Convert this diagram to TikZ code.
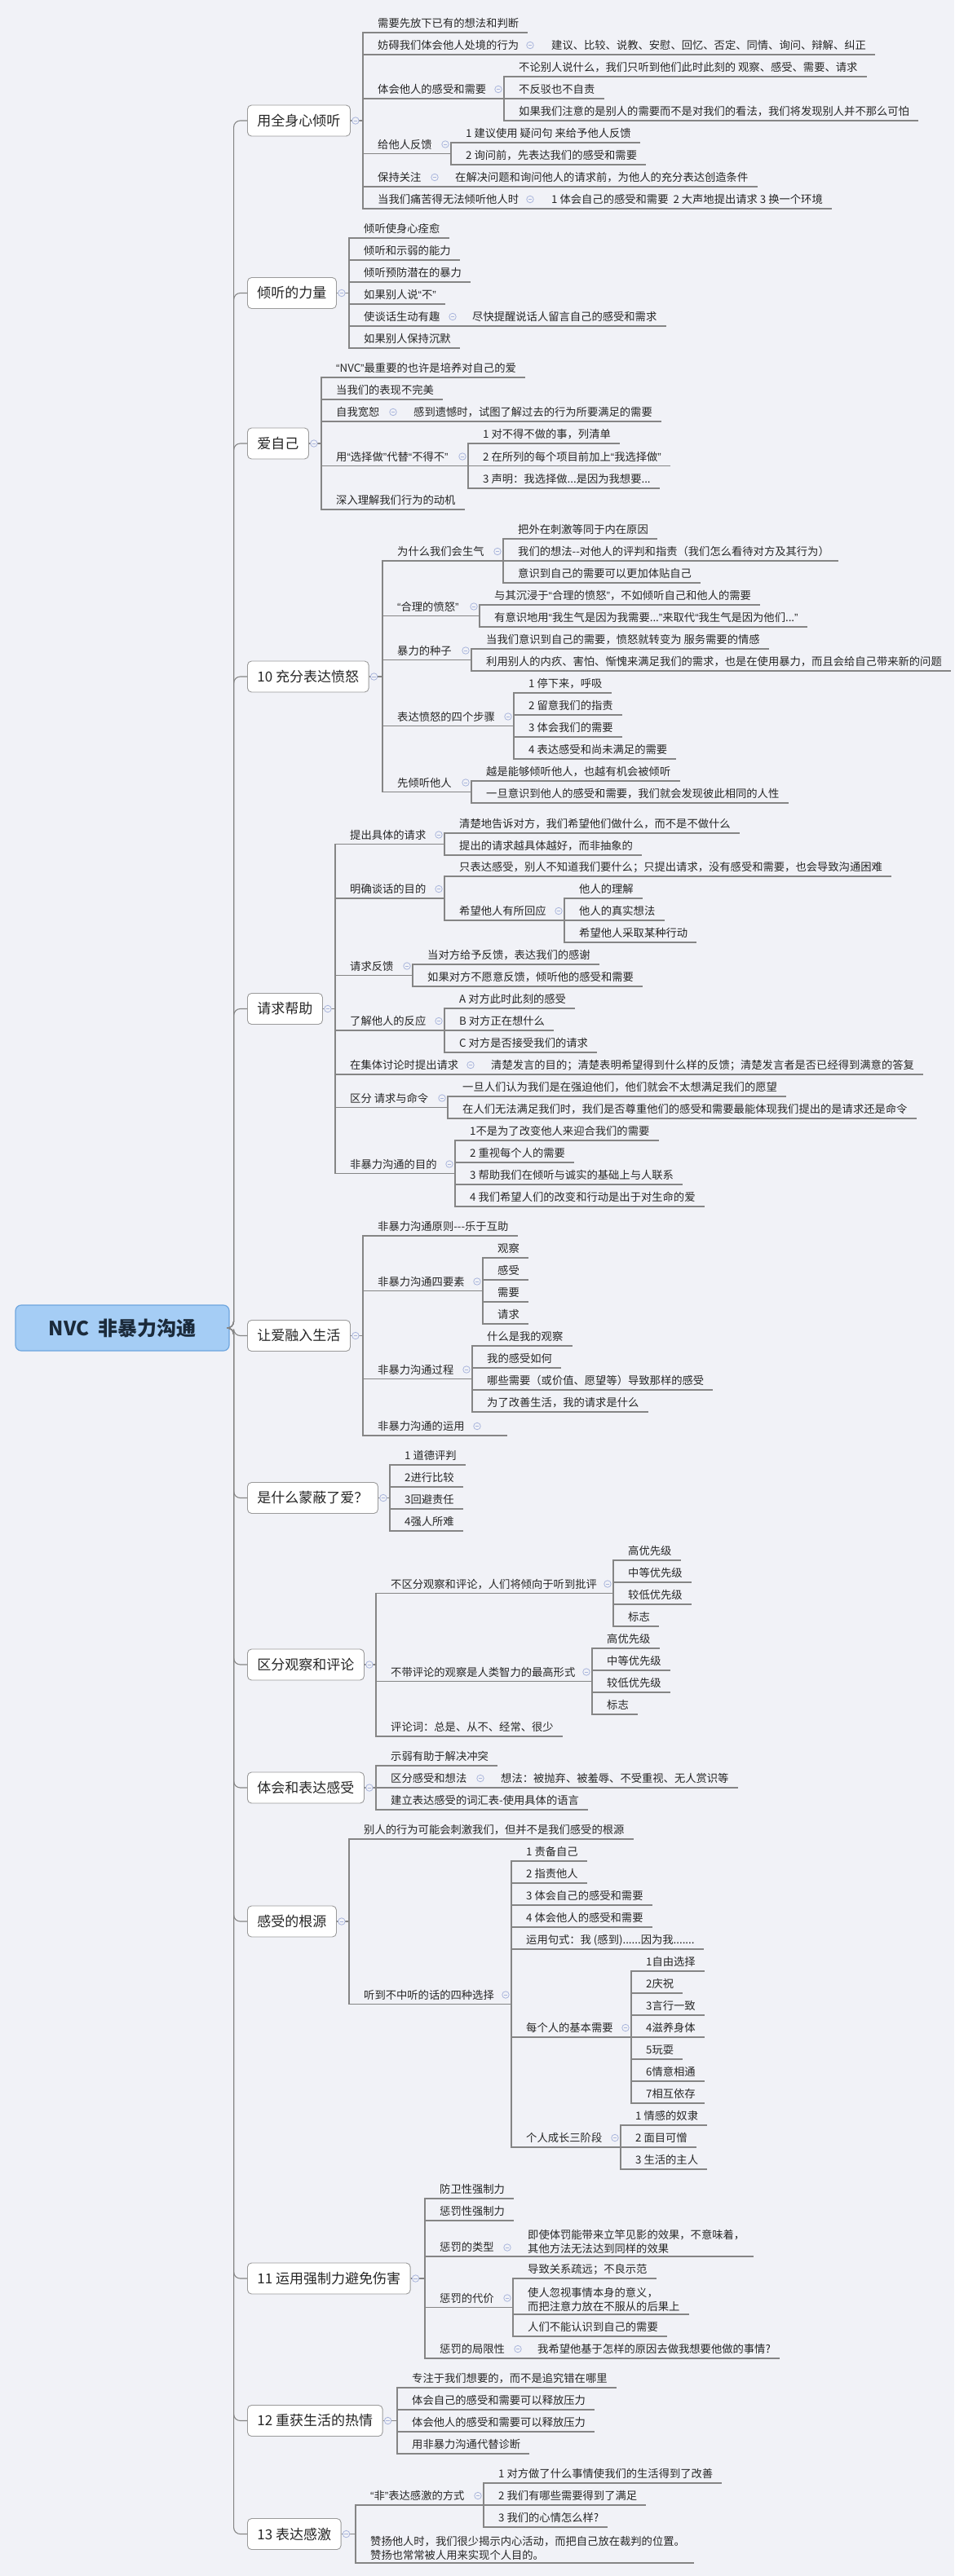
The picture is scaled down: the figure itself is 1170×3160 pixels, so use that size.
\documentclass[tikz,border=0pt]{standalone}
\usepackage{fontspec}
\setmainfont{Noto Sans CJK SC}
\newfontfamily\qfnt{Liberation Sans}
\newcommand\lqm{{\qfnt “}}
\newcommand\rqm{{\qfnt ”}}
\usetikzlibrary{calc}
\definecolor{bgc}{HTML}{F1F2F7}
\definecolor{linec}{HTML}{858585}
\definecolor{boxc}{HTML}{9A9A9A}
\definecolor{txt}{HTML}{262626}
\definecolor{cmkc}{HTML}{A9B5DC}
\definecolor{rootfill}{HTML}{A5CDF5}
\definecolor{rootdraw}{HTML}{6FA6DE}
\definecolor{roottxt}{HTML}{1B2A3A}
\tikzset{
  lf/.style={anchor=south west, inner xsep=0pt, inner ysep=3pt, text height=10pt, text depth=3pt, font=\fontsize{13.3}{16}\selectfont, text=txt},
  lftwo/.style={anchor=south west, inner xsep=0pt, inner ysep=3.5pt, align=left, font=\fontsize{13.3}{16.5}\selectfont, text=txt},
  topn/.style={draw=boxc, fill=white, line width=0.9pt, rounded corners=5pt, inner xsep=12pt, inner ysep=0pt, minimum height=38pt, anchor=west, font=\fontsize{17}{20}\selectfont, text=txt},
  rootn/.style={draw=rootdraw, fill=rootfill, line width=1.2pt, rounded corners=7pt, minimum width=262pt, minimum height=56pt, font=\fontsize{24}{28}\selectfont\bfseries, text=roottxt},
  ln/.style={draw=linec, line width=1.1pt},
  cmk/.style={circle, draw=cmkc, fill=bgc, minimum size=8.5pt, inner sep=0pt, line width=0.8pt,
    path picture={\draw[cmkc, line width=0.8pt] ([xshift=-2.2pt]path picture bounding box.center) -- ([xshift=2.2pt]path picture bounding box.center);}}
}
\newcommand\cnA[2]{\draw[ln] (#1.east) -| ([xshift=-18pt]#2.south west) -- ([xshift=11pt]#2.south east);}
\newcommand\cnB[2]{\draw[ln] (#1.south east) -| ([xshift=-18pt]#2.south west) [rounded corners=6pt] -- ([xshift=11pt]#2.south east);}
\newcommand\cnI[2]{\draw[ln] (#1.south east) -- ([xshift=11pt]#2.south east);}
\begin{document}
\begin{tikzpicture}[x=1pt,y=-1pt]
\fill[bgc] (0,0) rectangle (1170,3160);
\useasboundingbox (0,0) rectangle (1170,3160);

% root
\node[rootn] (root) at (150,1629) {NVC\ \ 非暴力沟通};

% ---------- Section 1
\node[topn] (s1) at (303,148) {用全身心倾听};
\node[lf] (s1a) at (463,40) {需要先放下已有的想法和判断};
\node[lf] (s1b) at (463,67) {妨碍我们体会他人处境的行为};
\node[lf] (s1b1) at (676,67) {建议、比较、说教、安慰、回忆、否定、同情、询问、辩解、纠正};
\node[lf] (s1c) at (463,121) {体会他人的感受和需要};
\node[lf] (s1c1) at (636,94) {不论别人说什么，我们只听到他们此时此刻的 观察、感受、需要、请求};
\node[lf] (s1c2) at (636,121) {不反驳也不自责};
\node[lf] (s1c3) at (636,148) {如果我们注意的是别人的需要而不是对我们的看法，我们将发现别人并不那么可怕};
\node[lf] (s1d) at (463,188.5) {给他人反馈};
\node[lf] (s1d1) at (571,175) {1 建议使用 疑问句 来给予他人反馈};
\node[lf] (s1d2) at (571,202) {2 询问前，先表达我们的感受和需要};
\node[lf] (s1e) at (463,229) {保持关注};
\node[lf] (s1e1) at (558,229) {在解决问题和询问他人的请求前，为他人的充分表达创造条件};
\node[lf] (s1f) at (463,256) {当我们痛苦得无法倾听他人时};
\node[lf] (s1f1) at (676,256) {1 体会自己的感受和需要\ \ 2 大声地提出请求 3 换一个环境};
\cnA{s1}{s1a} \cnA{s1}{s1b} \cnI{s1b}{s1b1} \cnA{s1}{s1c}
\cnB{s1c}{s1c1} \cnI{s1c}{s1c2} \cnB{s1c}{s1c3}
\cnA{s1}{s1d} \cnB{s1d}{s1d1} \cnB{s1d}{s1d2}
\cnA{s1}{s1e} \cnI{s1e}{s1e1} \cnA{s1}{s1f} \cnI{s1f}{s1f1}

% ---------- Section 2
\node[topn] (s2) at (303,359.5) {倾听的力量};
\node[lf] (s2a) at (446,292) {倾听使身心痊愈};
\node[lf] (s2b) at (446,319) {倾听和示弱的能力};
\node[lf] (s2c) at (446,346) {倾听预防潜在的暴力};
\node[lf] (s2d) at (446,373) {如果别人说\lqm 不\rqm};
\node[lf] (s2e) at (446,400) {使谈话生动有趣};
\node[lf] (s2e1) at (579,400) {尽快提醒说话人留言自己的感受和需求};
\node[lf] (s2f) at (446,427) {如果别人保持沉默};
\cnA{s2}{s2a} \cnA{s2}{s2b} \cnA{s2}{s2c} \cnA{s2}{s2d} \cnA{s2}{s2e} \cnI{s2e}{s2e1} \cnA{s2}{s2f}

% ---------- Section 3
\node[topn] (s3) at (303,544) {爱自己};
\node[lf] (s3a) at (412,463) {\lqm NVC\rqm 最重要的也许是培养对自己的爱};
\node[lf] (s3b) at (412,490) {当我们的表现不完美};
\node[lf] (s3c) at (412,517) {自我宽恕};
\node[lf] (s3c1) at (507,517) {感到遗憾时，试图了解过去的行为所要满足的需要};
\node[lf] (s3d) at (412,571.5) {用\lqm 选择做\rqm 代替\lqm 不得不\rqm};
\node[lf] (s3d1) at (592,544) {1 对不得不做的事，列清单};
\node[lf] (s3d2) at (592,571.5) {2 在所列的每个项目前加上\lqm 我选择做\rqm};
\node[lf] (s3d3) at (592,599) {3 声明：我选择做...是因为我想要...};
\node[lf] (s3e) at (412,625) {深入理解我们行为的动机};
\cnA{s3}{s3a} \cnA{s3}{s3b} \cnA{s3}{s3c} \cnI{s3c}{s3c1} \cnA{s3}{s3d}
\cnB{s3d}{s3d1} \cnI{s3d}{s3d2} \cnB{s3d}{s3d3} \cnA{s3}{s3e}

% ---------- Section 4
\node[topn] (s4) at (303,830) {10 充分表达愤怒};
\node[lf] (s4a) at (487,688) {为什么我们会生气};
\node[lf] (s4a1) at (635,661) {把外在刺激等同于内在原因};
\node[lf] (s4a2) at (635,688) {我们的想法{-}{-}对他人的评判和指责（我们怎么看待对方及其行为）};
\node[lf] (s4a3) at (635,715) {意识到自己的需要可以更加体贴自己};
\node[lf] (s4b) at (487,755.5) {\lqm 合理的愤怒\rqm};
\node[lf] (s4b1) at (606,742) {与其沉浸于\lqm 合理的愤怒\rqm，不如倾听自己和他人的需要};
\node[lf] (s4b2) at (606,769) {有意识地用\lqm 我生气是因为我需要...\rqm 来取代\lqm 我生气是因为他们...\rqm};
\node[lf] (s4c) at (487,809.5) {暴力的种子};
\node[lf] (s4c1) at (596,796) {当我们意识到自己的需要，愤怒就转变为 服务需要的情感};
\node[lf] (s4c2) at (596,823) {利用别人的内疚、害怕、惭愧来满足我们的需求，也是在使用暴力，而且会给自己带来新的问题};
\node[lf] (s4d) at (487,890.5) {表达愤怒的四个步骤};
\node[lf] (s4d1) at (648,850) {1 停下来，呼吸};
\node[lf] (s4d2) at (648,877) {2 留意我们的指责};
\node[lf] (s4d3) at (648,904) {3 体会我们的需要};
\node[lf] (s4d4) at (648,931) {4 表达感受和尚未满足的需要};
\node[lf] (s4e) at (487,971.5) {先倾听他人};
\node[lf] (s4e1) at (596,958) {越是能够倾听他人，也越有机会被倾听};
\node[lf] (s4e2) at (596,985) {一旦意识到他人的感受和需要，我们就会发现彼此相同的人性};
\cnA{s4}{s4a} \cnB{s4a}{s4a1} \cnI{s4a}{s4a2} \cnB{s4a}{s4a3}
\cnA{s4}{s4b} \cnB{s4b}{s4b1} \cnB{s4b}{s4b2}
\cnA{s4}{s4c} \cnB{s4c}{s4c1} \cnB{s4c}{s4c2}
\cnA{s4}{s4d} \cnB{s4d}{s4d1} \cnB{s4d}{s4d2} \cnB{s4d}{s4d3} \cnB{s4d}{s4d4}
\cnA{s4}{s4e} \cnB{s4e}{s4e1} \cnB{s4e}{s4e2}

% ---------- Section 5
\node[topn] (s5) at (303,1237.5) {请求帮助};
\node[lf] (s5a) at (429,1035.5) {提出具体的请求};
\node[lf] (s5a1) at (563,1022) {清楚地告诉对方，我们希望他们做什么，而不是不做什么};
\node[lf] (s5a2) at (563,1049) {提出的请求越具体越好，而非抽象的};
\node[lf] (s5b) at (429,1102) {明确谈话的目的};
\node[lf] (s5b1) at (563,1075) {只表达感受，别人不知道我们要什么；只提出请求，没有感受和需要，也会导致沟通困难};
\node[lf] (s5b2) at (563,1129) {希望他人有所回应};
\node[lf] (s5b2a) at (710,1102) {他人的理解};
\node[lf] (s5b2b) at (710,1129) {他人的真实想法};
\node[lf] (s5b2c) at (710,1156) {希望他人采取某种行动};
\node[lf] (s5c) at (429,1196.5) {请求反馈};
\node[lf] (s5c1) at (524,1183) {当对方给予反馈，表达我们的感谢};
\node[lf] (s5c2) at (524,1210) {如果对方不愿意反馈，倾听他的感受和需要};
\node[lf] (s5d) at (429,1264) {了解他人的反应};
\node[lf] (s5d1) at (563,1237) {A 对方此时此刻的感受};
\node[lf] (s5d2) at (563,1264) {B 对方正在想什么};
\node[lf] (s5d3) at (563,1291) {C 对方是否接受我们的请求};
\node[lf] (s5e) at (429,1318) {在集体讨论时提出请求};
\node[lf] (s5e1) at (602,1318) {清楚发言的目的；清楚表明希望得到什么样的反馈；清楚发言者是否已经得到满意的答复};
\node[lf] (s5f) at (429,1358.5) {区分 请求与命令};
\node[lf] (s5f1) at (567,1345) {一旦人们认为我们是在强迫他们，他们就会不太想满足我们的愿望};
\node[lf] (s5f2) at (567,1372) {在人们无法满足我们时，我们是否尊重他们的感受和需要最能体现我们提出的是请求还是命令};
\node[lf] (s5g) at (429,1439.5) {非暴力沟通的目的};
\node[lf] (s5g1) at (576,1399) {1不是为了改变他人来迎合我们的需要};
\node[lf] (s5g2) at (576,1426) {2 重视每个人的需要};
\node[lf] (s5g3) at (576,1453) {3 帮助我们在倾听与诚实的基础上与人联系};
\node[lf] (s5g4) at (576,1480) {4 我们希望人们的改变和行动是出于对生命的爱};
\cnA{s5}{s5a} \cnB{s5a}{s5a1} \cnB{s5a}{s5a2}
\cnA{s5}{s5b} \cnB{s5b}{s5b1} \cnB{s5b}{s5b2}
\cnB{s5b2}{s5b2a} \cnI{s5b2}{s5b2b} \cnB{s5b2}{s5b2c}
\cnA{s5}{s5c} \cnB{s5c}{s5c1} \cnB{s5c}{s5c2}
\cnA{s5}{s5d} \cnB{s5d}{s5d1} \cnI{s5d}{s5d2} \cnB{s5d}{s5d3}
\cnA{s5}{s5e} \cnI{s5e}{s5e1}
\cnA{s5}{s5f} \cnB{s5f}{s5f1} \cnB{s5f}{s5f2}
\cnA{s5}{s5g} \cnB{s5g}{s5g1} \cnB{s5g}{s5g2} \cnB{s5g}{s5g3} \cnB{s5g}{s5g4}

% ---------- Section 6
\node[topn] (s6) at (303,1638.5) {让爱融入生活};
\node[lf] (s6a) at (463,1516) {非暴力沟通原则{-}{-}{-}乐于互助};
\node[lf] (s6b) at (463,1583.5) {非暴力沟通四要素};
\node[lf] (s6b1) at (610,1543) {观察};
\node[lf] (s6b2) at (610,1570) {感受};
\node[lf] (s6b3) at (610,1597) {需要};
\node[lf] (s6b4) at (610,1624) {请求};
\node[lf] (s6c) at (463,1691.5) {非暴力沟通过程};
\node[lf] (s6c1) at (597,1651) {什么是我的观察};
\node[lf] (s6c2) at (597,1678) {我的感受如何};
\node[lf] (s6c3) at (597,1705) {哪些需要（或价值、愿望等）导致那样的感受};
\node[lf] (s6c4) at (597,1732) {为了改善生活，我的请求是什么};
\node[lf] (s6d) at (463,1761) {非暴力沟通的运用};
\cnA{s6}{s6a} \cnA{s6}{s6b}
\cnB{s6b}{s6b1} \cnB{s6b}{s6b2} \cnB{s6b}{s6b3} \cnB{s6b}{s6b4}
\cnA{s6}{s6c}
\cnB{s6c}{s6c1} \cnB{s6c}{s6c2} \cnB{s6c}{s6c3} \cnB{s6c}{s6c4}
\draw[ln] (s6.east) -| ([xshift=-18pt]s6d.south west) -- ([xshift=52pt]s6d.south east);

% ---------- Section 7
\node[topn] (s7) at (303,1837.5) {是什么蒙蔽了爱？};
\node[lf] (s7a) at (496,1797) {1 道德评判};
\node[lf] (s7b) at (496,1824) {2进行比较};
\node[lf] (s7c) at (496,1851) {3回避责任};
\node[lf] (s7d) at (496,1878) {4强人所难};
\cnA{s7}{s7a} \cnA{s7}{s7b} \cnA{s7}{s7c} \cnA{s7}{s7d}

% ---------- Section 8
\node[topn] (s8) at (303,2042) {区分观察和评论};
\node[lf] (s8a) at (479,1954.5) {不区分观察和评论，人们将倾向于听到批评};
\node[lf] (s8a1) at (770,1914) {高优先级};
\node[lf] (s8a2) at (770,1941) {中等优先级};
\node[lf] (s8a3) at (770,1968) {较低优先级};
\node[lf] (s8a4) at (770,1995) {标志};
\node[lf] (s8b) at (479,2062.5) {不带评论的观察是人类智力的最高形式};
\node[lf] (s8b1) at (744,2022) {高优先级};
\node[lf] (s8b2) at (744,2049) {中等优先级};
\node[lf] (s8b3) at (744,2076) {较低优先级};
\node[lf] (s8b4) at (744,2103) {标志};
\node[lf] (s8c) at (479,2130) {评论词：总是、从不、经常、很少};
\cnA{s8}{s8a} \cnB{s8a}{s8a1} \cnB{s8a}{s8a2} \cnB{s8a}{s8a3} \cnB{s8a}{s8a4}
\cnA{s8}{s8b} \cnB{s8b}{s8b1} \cnB{s8b}{s8b2} \cnB{s8b}{s8b3} \cnB{s8b}{s8b4}
\cnA{s8}{s8c}

% ---------- Section 9
\node[topn] (s9) at (303,2193) {体会和表达感受};
\node[lf] (s9a) at (479,2166) {示弱有助于解决冲突};
\node[lf] (s9b) at (479,2193) {区分感受和想法};
\node[lf] (s9b1) at (614,2193) {想法：被抛弃、被羞辱、不受重视、无人赏识等};
\node[lf] (s9c) at (479,2220) {建立表达感受的词汇表-使用具体的语言};
\cnA{s9}{s9a} \cnA{s9}{s9b} \cnI{s9b}{s9b1} \cnA{s9}{s9c}

% ---------- Section 10
\node[topn] (s10) at (303,2357) {感受的根源};
\node[lf] (s10a) at (446,2256) {别人的行为可能会刺激我们，但并不是我们感受的根源};
\node[lf] (s10b) at (446,2458.5) {听到不中听的话的四种选择};
\node[lf] (s10b1) at (645,2283) {1 责备自己};
\node[lf] (s10b2) at (645,2310) {2 指责他人};
\node[lf] (s10b3) at (645,2337) {3 体会自己的感受和需要};
\node[lf] (s10b4) at (645,2364) {4 体会他人的感受和需要};
\node[lf] (s10b5) at (645,2391) {运用句式：我 (感到)......因为我.......};
\node[lf] (s10b6) at (645,2499) {每个人的基本需要};
\node[lf] (s10b6a) at (792,2418) {1自由选择};
\node[lf] (s10b6b) at (792,2445) {2庆祝};
\node[lf] (s10b6c) at (792,2472) {3言行一致};
\node[lf] (s10b6d) at (792,2499) {4滋养身体};
\node[lf] (s10b6e) at (792,2526) {5玩耍};
\node[lf] (s10b6f) at (792,2553) {6情意相通};
\node[lf] (s10b6g) at (792,2580) {7相互依存};
\node[lf] (s10b7) at (645,2634) {个人成长三阶段};
\node[lf] (s10b7a) at (779,2607) {1 情感的奴隶};
\node[lf] (s10b7b) at (779,2634) {2 面目可憎};
\node[lf] (s10b7c) at (779,2661) {3 生活的主人};
\cnA{s10}{s10a} \cnA{s10}{s10b}
\cnB{s10b}{s10b1} \cnB{s10b}{s10b2} \cnB{s10b}{s10b3} \cnB{s10b}{s10b4} \cnB{s10b}{s10b5} \cnB{s10b}{s10b6} \cnB{s10b}{s10b7}
\cnB{s10b6}{s10b6a} \cnB{s10b6}{s10b6b} \cnB{s10b6}{s10b6c} \cnI{s10b6}{s10b6d} \cnB{s10b6}{s10b6e} \cnB{s10b6}{s10b6f} \cnB{s10b6}{s10b6g}
\cnB{s10b7}{s10b7a} \cnI{s10b7}{s10b7b} \cnB{s10b7}{s10b7c}

% ---------- Section 11
\node[topn] (s11) at (303,2795) {11 运用强制力避免伤害};
\node[lf] (s11a) at (539,2697) {防卫性强制力};
\node[lf] (s11b) at (539,2724) {惩罚性强制力};
\node[lf] (s11c) at (539,2768) {惩罚的类型};
\node[lftwo] (s11c1) at (647,2768) {即使体罚能带来立竿见影的效果，不意味着，\\其他方法无法达到同样的效果};
\node[lf] (s11d) at (539,2830.5) {惩罚的代价};
\node[lf] (s11d1) at (647,2795) {导致关系疏远；不良示范};
\node[lftwo] (s11d2) at (647,2839) {使人忽视事情本身的意义，\\而把注意力放在不服从的后果上};
\node[lf] (s11d3) at (647,2866) {人们不能认识到自己的需要};
\node[lf] (s11e) at (539,2893) {惩罚的局限性};
\node[lf] (s11e1) at (659,2893) {我希望他基于怎样的原因去做我想要他做的事情?};
\cnA{s11}{s11a} \cnA{s11}{s11b} \cnA{s11}{s11c} \cnI{s11c}{s11c1}
\cnA{s11}{s11d} \cnB{s11d}{s11d1} \cnB{s11d}{s11d2} \cnB{s11d}{s11d3}
\cnA{s11}{s11e} \cnI{s11e}{s11e1}

% ---------- Section 12
\node[topn] (s12) at (303,2969.5) {12 重获生活的热情};
\node[lf] (s12a) at (505,2929) {专注于我们想要的，而不是追究错在哪里};
\node[lf] (s12b) at (505,2956) {体会自己的感受和需要可以释放压力};
\node[lf] (s12c) at (505,2983) {体会他人的感受和需要可以释放压力};
\node[lf] (s12d) at (505,3010) {用非暴力沟通代替诊断};
\cnA{s12}{s12a} \cnA{s12}{s12b} \cnA{s12}{s12c} \cnA{s12}{s12d}

% ---------- Section 13
\node[topn] (s13) at (303,3108.5) {13 表达感激};
\node[lf] (s13a) at (454,3073) {\lqm 非\rqm 表达感激的方式};
\node[lf] (s13a1) at (611,3046) {1 对方做了什么事情使我们的生活得到了改善};
\node[lf] (s13a2) at (611,3073) {2 我们有哪些需要得到了满足};
\node[lf] (s13a3) at (611,3100) {3 我们的心情怎么样?};
\node[lftwo] (s13b) at (454,3144) {赞扬他人时，我们很少揭示内心活动，而把自己放在裁判的位置。\\赞扬也常常被人用来实现个人目的。};
\cnA{s13}{s13a} \cnB{s13a}{s13a1} \cnI{s13a}{s13a2} \cnB{s13a}{s13a3}
\cnA{s13}{s13b}

% root connectors
\foreach \i in {1,...,13} {\draw[ln, rounded corners=8pt] (root.east) -- ++(5,0) |- (s\i.west);}

% collapse marks
\foreach \i in {1,...,13} {\node[cmk] (k\i) at ([xshift=6pt]s\i.east) {};}
\node[cmk] (k1b) at (650,55.5) {};
\node[cmk] (k1c) at (611,109.5) {};
\node[cmk] (k1d) at (546,177) {};
\node[cmk] (k1e) at (533,217.5) {};
\node[cmk] (k1f) at (650,244.5) {};
\node[cmk] (k2e) at (555,388.5) {};
\node[cmk] (k3c) at (482,505.5) {};
\node[cmk] (k3d) at (567,560) {};
\node[cmk] (k4a) at (610,676.5) {};
\node[cmk] (k4b) at (581,744) {};
\node[cmk] (k4c) at (571,798) {};
\node[cmk] (k4d) at (623,879) {};
\node[cmk] (k4e) at (571,960) {};
\node[cmk] (k5a) at (538,1024) {};
\node[cmk] (k5b) at (538,1090.5) {};
\node[cmk] (k5b2) at (685,1117.5) {};
\node[cmk] (k5c) at (499,1185) {};
\node[cmk] (k5d) at (538,1252.5) {};
\node[cmk] (k5e) at (577,1306.5) {};
\node[cmk] (k5f) at (542,1347) {};
\node[cmk] (k5g) at (551,1428) {};
\node[cmk] (k6b) at (585,1572) {};
\node[cmk] (k6c) at (572,1680) {};
\node[cmk] (k6d) at (585,1749.5) {};
\node[cmk] (k8a) at (745,1943) {};
\node[cmk] (k8b) at (719,2051) {};
\node[cmk] (k9b) at (589,2181.5) {};
\node[cmk] (k10b) at (620,2447) {};
\node[cmk] (k10b6) at (767,2487.5) {};
\node[cmk] (k10b7) at (754,2622.5) {};
\node[cmk] (k11c) at (622,2757) {};
\node[cmk] (k11d) at (622,2819) {};
\node[cmk] (k11e) at (635,2881.5) {};
\node[cmk] (k13a) at (586,3061.5) {};
\end{tikzpicture}
\end{document}
